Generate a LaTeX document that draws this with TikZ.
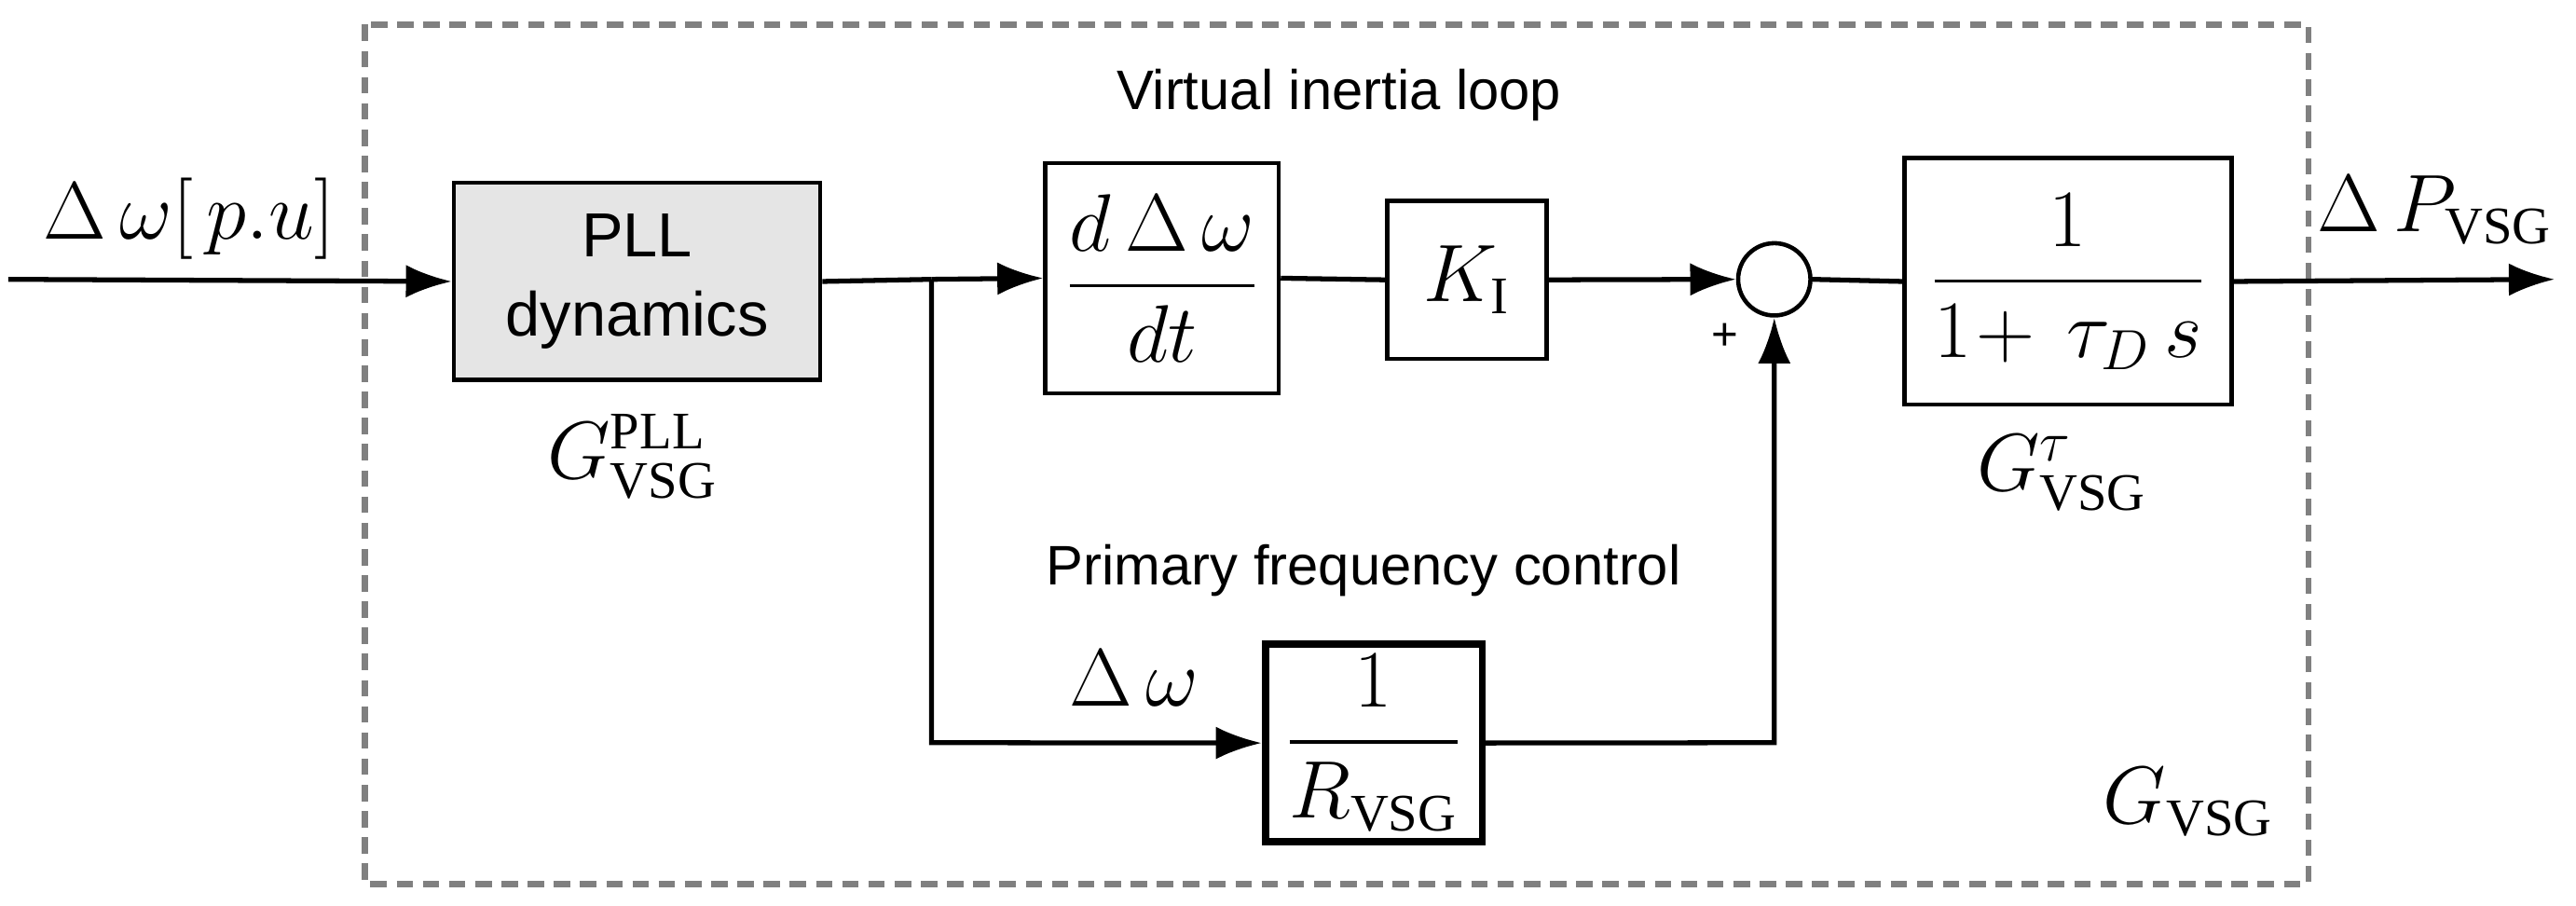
\documentclass[tikz,border=0pt]{standalone}
\usepackage{amsmath}
\usepackage{fontspec}
\setmainfont{Liberation Serif}
\newfontfamily\sff{Liberation Sans}
\usetikzlibrary{arrows.meta}
\begin{document}
\begin{tikzpicture}[x=0.01763cm,y=-0.01763cm,
 blk/.style={draw,line width=1.3pt,inner sep=0,anchor=north west},
 arr/.style={line width=1.5pt,-{Latex[length=14pt,width=10pt]}},
 ln/.style={line width=1.5pt},
 lbl/.style={font=\fontsize{17}{20}\selectfont},
 mth/.style={font=\fontsize{23}{26}\selectfont}]
\useasboundingbox (0,0) rectangle (1568,551);
\draw[gray,dashed,line width=1.8pt,dash pattern=on 5pt off 3pt] (222,15) rectangle (1405,538);
\node[blk,fill=gray!20,minimum width=223*0.01763cm,minimum height=120*0.01763cm,align=center,lbl,font=\sff\fontsize{19}{24}\selectfont] (pll) at (275,110) {PLL\\dynamics};
\node[blk,minimum width=142*0.01763cm,minimum height=140*0.01763cm,mth] (der) at (635,98) {$\dfrac{d\,\Delta\,\omega}{dt}$};
\node[blk,minimum width=97*0.01763cm,minimum height=96*0.01763cm,mth] (k) at (843,121) {$K_{\mathrm{I}}$};
\node[draw,circle,line width=1.3pt,minimum size=44*0.01763cm,inner sep=0] (sum) at (1080,170) {};
\node[blk,minimum width=199*0.01763cm,minimum height=150*0.01763cm,mth] (tau) at (1158,95) {$\dfrac{1}{1\!+\,\tau_D\,s}$};
\node[blk,line width=2.2pt,minimum width=132*0.01763cm,minimum height=120*0.01763cm,mth] (r) at (768,390) {$\dfrac{1}{R_{\mathrm{VSG}}}$};
\coordinate (in) at (5,170);
\coordinate (out) at (1555,170);
\coordinate (br) at (567,170);
\coordinate (bl) at (567,452);
\coordinate (cr) at (1080,452);
\draw[arr] (in) -- (pll.west);
\draw[ln] (pll.east) -- (br);
\draw[arr] (br) -- (der.west);
\draw[ln] (der.east) -- (k.west);
\draw[arr] (k.east) -- (sum.west);
\draw[ln] (sum.east) -- (tau.west);
\draw[arr] (tau.east) -- (out);
\draw[arr] (br) -- (bl) -- (r.west);
\draw[arr] (r.east) -- (cr) -- (sum.south);
\node[mth] (l1) at (115,133) {$\Delta\,\omega[\,p.u]$};
\node[mth] (l2) at (385,278) {$G_{\mathrm{VSG}}^{\mathrm{PLL}}$};
\node[mth] (l3) at (1255,288) {$G_{\mathrm{VSG}}^{\tau}$};
\node[mth] (l4) at (1482,128) {$\Delta\,P_{\mathrm{VSG}}$};
\node[mth] (l5) at (1332,488) {$G_{\mathrm{VSG}}$};
\node[mth] (l6) at (690,413) {$\Delta\,\omega$};
\node[font=\sff\fontsize{14}{14}\selectfont] (pl) at (1050,205) {+};
\node[font=\sff\fontsize{17}{20}\selectfont] (t1) at (815,58) {Virtual inertia loop};
\node[font=\sff\fontsize{17}{20}\selectfont] (t2) at (830,347) {Primary frequency control};
\end{tikzpicture}
\end{document}
